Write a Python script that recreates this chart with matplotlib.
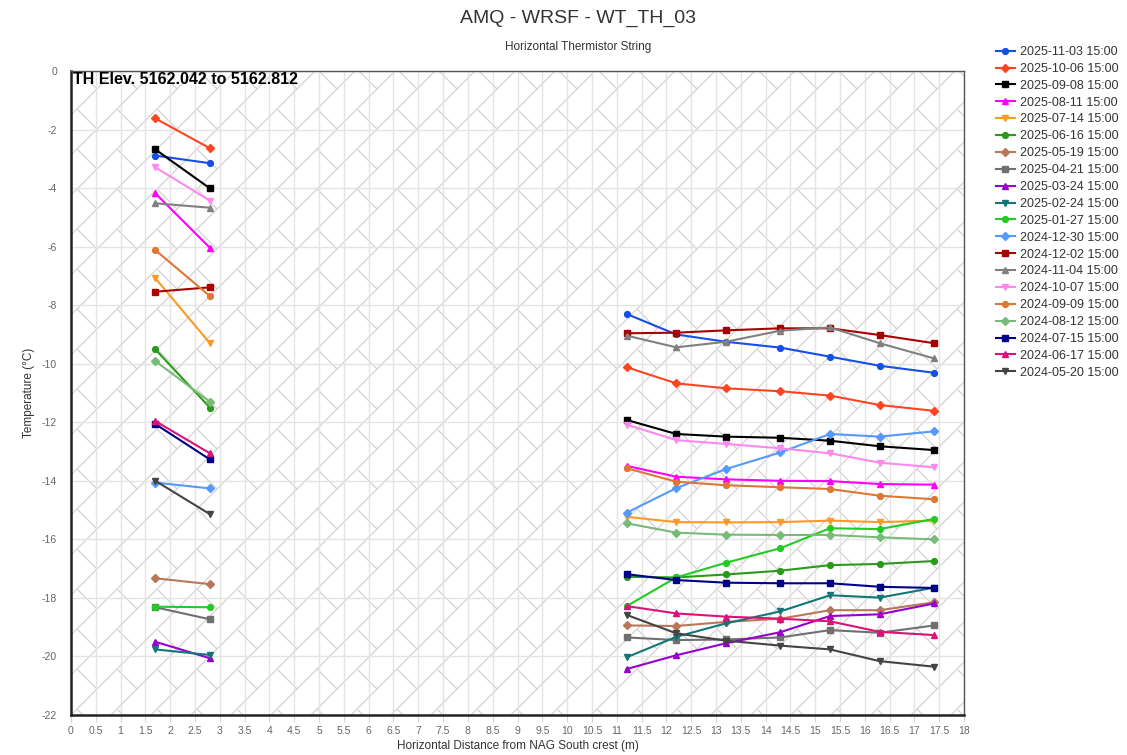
import numpy as np
import matplotlib
matplotlib.use("Agg")
import matplotlib.pyplot as plt
from matplotlib.collections import LineCollection

plt.rcParams["font.family"] = ["Liberation Sans", "DejaVu Sans"]
plt.rcParams["axes.unicode_minus"] = False

# ── data ──────────────────────────────────────────────────────────────────────
x_left = [1.7, 2.8]
x_right = [11.2, 12.2, 13.2, 14.3, 15.3, 16.3, 17.4]

labels = [
    "2025-11-03 15:00", "2025-10-06 15:00", "2025-09-08 15:00", "2025-08-11 15:00",
    "2025-07-14 15:00", "2025-06-16 15:00", "2025-05-19 15:00", "2025-04-21 15:00",
    "2025-03-24 15:00", "2025-02-24 15:00", "2025-01-27 15:00", "2024-12-30 15:00",
    "2024-12-02 15:00", "2024-11-04 15:00", "2024-10-07 15:00", "2024-09-09 15:00",
    "2024-08-12 15:00", "2024-07-15 15:00", "2024-06-17 15:00", "2024-05-20 15:00",
]

temps_left = [
    [-2.89, -3.15], [-1.62, -2.64], [-2.68, -4.01], [-4.18, -6.04],
    [-7.08, -9.30], [-9.51, -11.50], [-17.33, -17.53], [-18.32, -18.73],
    [-19.50, -20.06], [-19.76, -19.95], [-18.30, -18.32], [-14.06, -14.26],
    [-7.54, -7.39], [-4.52, -4.67], [-3.29, -4.43], [-6.12, -7.69],
    [-9.91, -11.30], [-12.06, -13.27], [-11.96, -13.06], [-14.00, -15.14],
]

temps_right = [
    [-8.30, -9.00, -9.25, -9.45, -9.76, -10.07, -10.31],
    [-10.12, -10.67, -10.84, -10.94, -11.09, -11.41, -11.61],
    [-11.92, -12.40, -12.49, -12.53, -12.63, -12.82, -12.95],
    [-13.49, -13.86, -13.95, -14.00, -14.01, -14.11, -14.13],
    [-15.23, -15.41, -15.42, -15.41, -15.36, -15.41, -15.36],
    [-17.28, -17.30, -17.20, -17.07, -16.88, -16.84, -16.74],
    [-18.94, -18.96, -18.82, -18.71, -18.42, -18.42, -18.15],
    [-19.35, -19.44, -19.42, -19.35, -19.10, -19.19, -18.94],
    [-20.43, -19.96, -19.55, -19.17, -18.62, -18.56, -18.19],
    [-20.03, -19.33, -18.87, -18.46, -17.91, -17.99, -17.65],
    [-18.28, -17.30, -16.80, -16.30, -15.62, -15.65, -15.30],
    [-15.09, -14.25, -13.60, -13.03, -12.40, -12.49, -12.31],
    [-8.96, -8.94, -8.86, -8.79, -8.79, -9.02, -9.30],
    [-9.04, -9.44, -9.25, -8.87, -8.76, -9.30, -9.82],
    [-12.08, -12.61, -12.74, -12.89, -13.06, -13.38, -13.54],
    [-13.57, -14.03, -14.15, -14.22, -14.28, -14.51, -14.63],
    [-15.45, -15.77, -15.84, -15.85, -15.85, -15.93, -16.00],
    [-17.19, -17.39, -17.48, -17.50, -17.50, -17.62, -17.66],
    [-18.28, -18.53, -18.64, -18.71, -18.80, -19.16, -19.27],
    [-18.58, -19.21, -19.46, -19.63, -19.76, -20.16, -20.35],
]

colors = [
    "#1450e6", "#ff4422", "#000000", "#ff00ff", "#ff9922",
    "#2a9a1a", "#b87858", "#707070", "#9900cc", "#117777",
    "#22cc22", "#5599ff", "#aa0000", "#808080", "#ff88ee",
    "#dd7733", "#77bb77", "#000088", "#dd1177", "#444444",
]
markers = ["o", "D", "s", "^", "v"]

y_ticks = list(range(-22, 1, 2))
x_ticks = list(np.arange(0, 18.01, 0.5))

# ── layout ────────────────────────────────────────────────────────────────────
W, H = 1127, 755
L, R, T, B = 71, 964, 71, 715
rect = [L / W, 1 - B / H, (R - L) / W, (B - T) / H]

fig = plt.figure(figsize=(W / 100, H / 100), dpi=100, facecolor="white")

# background: rotated brick pattern, drawn in pixel units
bg = fig.add_axes(rect)
pw, ph = R - L, B - T
bg.set_xlim(0, pw)
bg.set_ylim(0, ph)
bg.set_facecolor("#fbfbfb")
bg.axis("off")
bg.patch.set_visible(True)
S, P = 40.0, 80.0
segs = []
for k in range(-int(ph / S) - 2, int(pw / S) + 3):
    segs.append([(k * S, 0), (k * S + ph, ph)])
    for m in range(-40, 60):
        c = P * m + S * k + 12
        segs.append([((c + k * S) / 2, (c - k * S) / 2),
                     ((c + (k + 1) * S) / 2, (c - (k + 1) * S) / 2)])
bg.add_collection(LineCollection(segs, colors="#d6d6d6", linewidths=1.0))

ax = fig.add_axes(rect)
ax.set_facecolor("none")

for i, lab in enumerate(labels):
    xs = x_left + [np.nan] + x_right
    ys = temps_left[i] + [np.nan] + temps_right[i]
    mk = markers[i % 5]
    ms = 4.2 if mk in ("o", "s") else (3.6 if mk == "D" else 4.6)
    ax.plot(xs, ys, color=colors[i], marker=mk, markersize=ms,
            linewidth=1.5, label=lab, zorder=3)

ax.set_xlim(0, 18)
ax.set_ylim(-22, 0)
ax.set_xticks(x_ticks)
ax.set_xticklabels([f"{v:g}" for v in x_ticks])
ax.set_yticks(y_ticks)
ax.grid(True, color="#e4e4e4", linewidth=1.0, zorder=0)
ax.tick_params(axis="y", length=0, pad=10, labelsize=7.5, labelcolor="#666666")
ax.tick_params(axis="x", length=5, color="#ccd6eb", pad=3, labelsize=7.5,
               labelcolor="#666666")
for side in ("top", "right"):
    ax.spines[side].set_color("#555555")
    ax.spines[side].set_linewidth(1.0)
for side in ("left", "bottom"):
    ax.spines[side].set_color("#222222")
    ax.spines[side].set_linewidth(1.8)

ax.set_xlabel("Horizontal Distance from NAG South crest (m)", fontsize=8.5,
              color="#333333", labelpad=3)
ax.set_ylabel("Temperature (°C)", fontsize=8.5, color="#333333", labelpad=5)

fig.text(0.513, 1 - 18 / H, "AMQ - WRSF - WT_TH_03", ha="center", va="center",
         fontsize=14, color="#333333")
fig.text(0.513, 1 - 47 / H, "Horizontal Thermistor String", ha="center",
         va="center", fontsize=8.5, color="#333333")
fig.text(73 / W, 1 - 80 / H, "TH Elev. 5162.042 to 5162.812", ha="left",
         va="center", fontsize=11.5, fontweight="bold", color="#000000")

fig.legend(loc="upper left", bbox_to_anchor=(996 / W, 1 - 46 / H),
           frameon=False, fontsize=9, handlelength=1.5, handletextpad=0.4,
           labelspacing=0.39, borderaxespad=0, borderpad=0,
           labelcolor="#333333")

fig.savefig("out.png", dpi=100, facecolor="white")
